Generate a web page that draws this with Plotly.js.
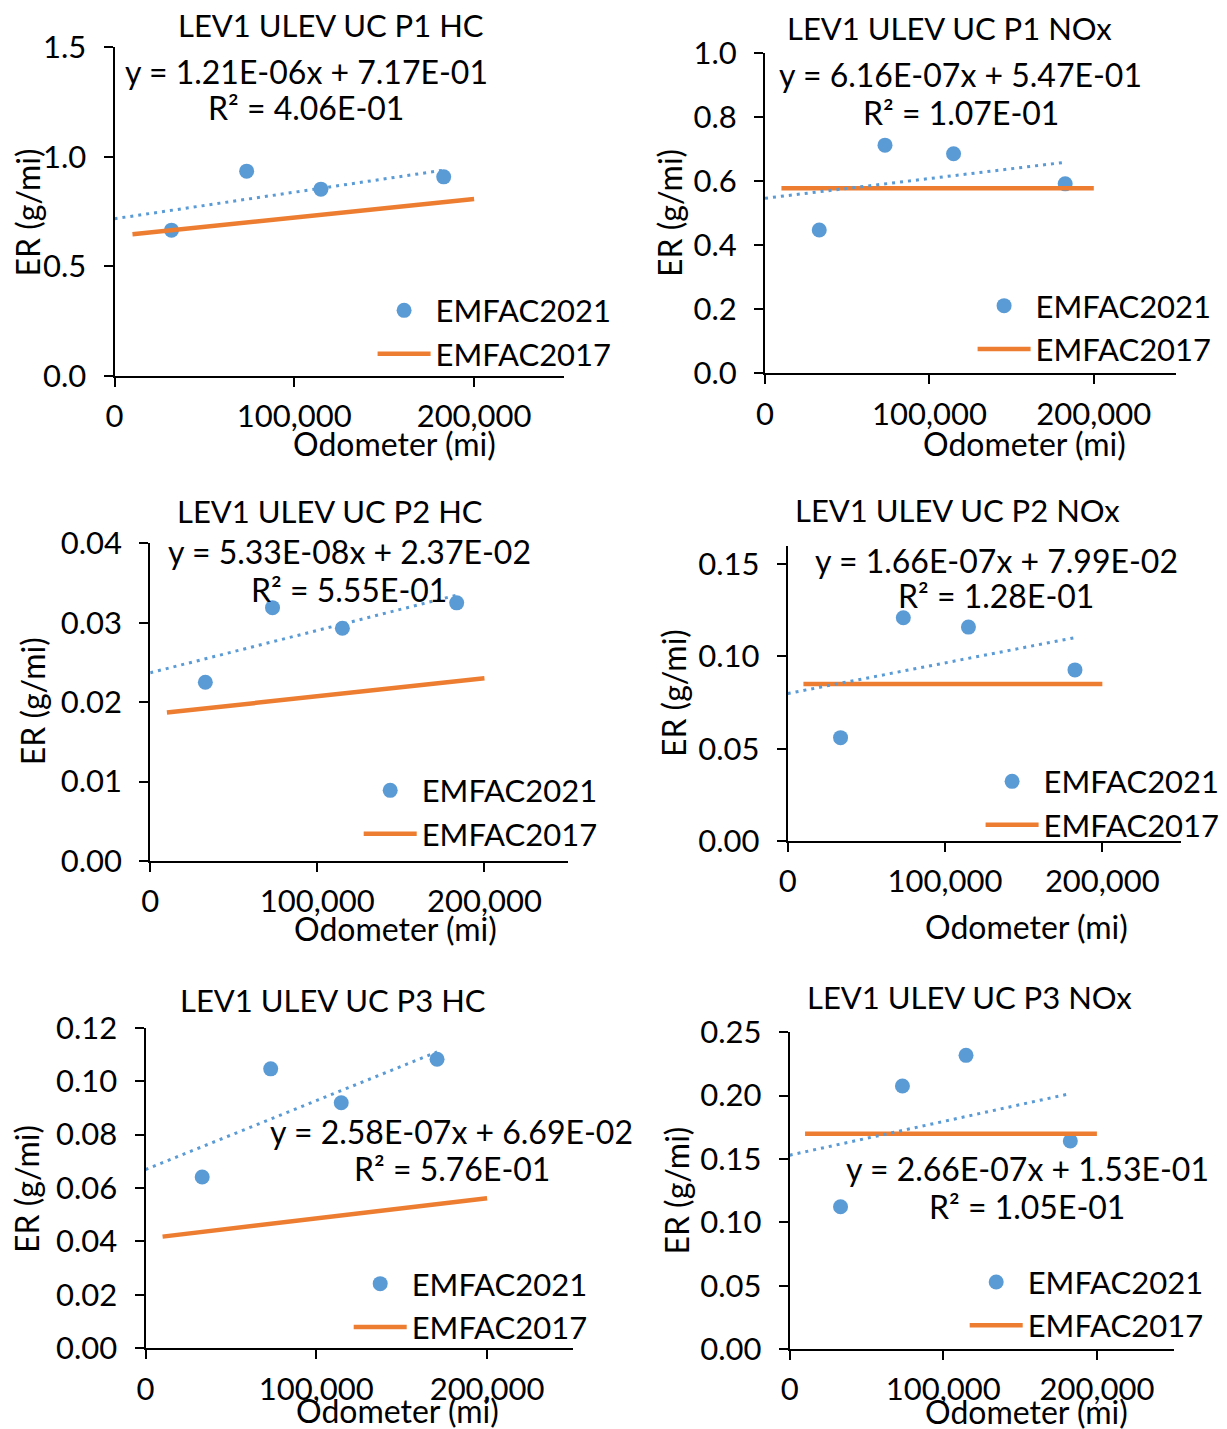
<!DOCTYPE html>
<html><head><meta charset="utf-8">
<script src="https://cdn.plot.ly/plotly-3.0.1.min.js"></script>
<style>html,body{margin:0;padding:0;background:#fff}</style>
</head><body>
<div id="chart" style="width:1227px;height:1429px"></div>
<script>
// ---------- data ----------
const titles = ['LEV1 ULEV UC P1 HC','LEV1 ULEV UC P1 NOx','LEV1 ULEV UC P2 HC','LEV1 ULEV UC P2 NOx','LEV1 ULEV UC P3 HC','LEV1 ULEV UC P3 NOx'];
const odometer = [
  [31700, 73500, 114800, 183100],
  [33000, 73000, 114700, 182600],
  [33000, 73200, 115000, 183400],
  [33600, 73500, 114900, 182600],
  [33200, 73300, 114600, 170700],
  [33100, 73400, 114800, 182700]
];
const emfac2021 = [
  [0.665, 0.934, 0.852, 0.908],
  [0.448, 0.713, 0.686, 0.592],
  [0.0225, 0.0319, 0.0293, 0.0325],
  [0.0560, 0.1210, 0.1159, 0.0927],
  [0.0641, 0.1046, 0.0919, 0.1082],
  [0.1123, 0.2076, 0.2318, 0.1642]
];
const emfac2017X = [10000, 200000];
const emfac2017Y = [
  [0.646, 0.807],
  [0.578, 0.578],
  [0.0187, 0.0230],
  [0.085, 0.085],
  [0.0418, 0.0562],
  [0.170, 0.170]
];
const trendSlope = [1.21e-6, 6.16e-7, 5.33e-8, 1.66e-7, 2.58e-7, 2.66e-7];
const trendIntercept = [7.17e-1, 5.47e-1, 2.37e-2, 7.99e-2, 6.69e-2, 1.53e-1];
const trendR2 = [4.06e-1, 1.07e-1, 5.55e-1, 1.28e-1, 5.76e-1, 1.05e-1];
const yMax = [1.5, 1.0, 0.04, 0.16, 0.12, 0.25];
const yStep = [0.5, 0.2, 0.01, 0.05, 0.02, 0.05];
const yFormat = ['.1f', '.1f', '.2f', '.2f', '.2f', '.2f'];
const xTitle = 'Odometer (mi)';
const yTitle = 'ER (g/mi)';
const seriesNames = ['EMFAC2021', 'EMFAC2017'];

// ---------- layout geometry (pixels) ----------
const W = 1227, H = 1429;
const geom = [
  {x0:114.5, x1:564,    yT:47,     yB:376,    title:[331,25],    eq:[306,71.7],   r2:[306,107],     xt:[394.5,443.3], yt:[27,212.5],   lg:[377.6,310.7]},
  {x0:765,   x1:1176,   yT:53.3,   yB:373.3,  title:[949,28.3],  eq:[960,75],     r2:[960.8,112.3], xt:[1024.3,443.3],yt:[669.6,213.3], lg:[977.6,306]},
  {x0:150.2, x1:568,    yT:543.3,  yB:861,    title:[329.7,511], eq:[349,551.7],  r2:[349.2,589],   xt:[395.9,928.3], yt:[32.6,701.7], lg:[363.7,790.7]},
  {x0:787.7, x1:1181,   yT:545.7,  yB:841,    title:[957.8,510], eq:[996.5,560],  r2:[995.5,595],   xt:[1026.7,926.7],yt:[672.8,693.3], lg:[985.6,781.7]},
  {x0:145.5, x1:572.5,  yT:1027.7, yB:1348.3, title:[333.3,1000],eq:[451.5,1131], r2:[451.5,1168.3],xt:[397.5,1410.5],yt:[25.8,1189.2],lg:[353.7,1284]},
  {x0:789.7, x1:1173.7, yT:1032.3, yB:1349,   title:[969.9,996.7],eq:[1027,1168.3],r2:[1027.3,1206.7],xt:[1026.3,1411],yt:[676.8,1190.8],lg:[969.7,1282.3]}
];
const FONT = 'Lato, "Open Sans", sans-serif';
const FS_ANN = 32, FS_TICK = 31, FS_LEG = 31, FS_TITLE = 31;
const BLUE = '#5B9BD5', ORANGE = '#ED7D31';

function fmtE(v){
  const s = v.toExponential(2);
  const parts = s.split('e');
  const e = parseInt(parts[1], 10);
  return parts[0] + 'E' + (e < 0 ? '-' : '+') + String(Math.abs(e)).padStart(2, '0');
}
const px = x => x / W;
const py = y => 1 - y / H;

const traces = [];
const layout = {
  width: W, height: H,
  margin: {l:0, r:0, t:0, b:0},
  paper_bgcolor: '#fff', plot_bgcolor: 'rgba(0,0,0,0)',
  font: {family: FONT, size: FS_ANN, color: '#000'},
  showlegend: true,
  annotations: []
};

for (let i = 0; i < 6; i++) {
  const s = i === 0 ? '' : String(i + 1);
  const g = geom[i];
  const lg = i === 0 ? 'legend' : 'legend' + s;
  const xs = odometer[i];
  const xMaxData = Math.max.apply(null, xs);

  traces.push({
    type: 'scatter', mode: 'markers', name: seriesNames[0],
    x: xs, y: emfac2021[i], xaxis: 'x' + s, yaxis: 'y' + s,
    marker: {color: BLUE, size: 15}, legend: lg, cliponaxis: false
  });
  traces.push({
    type: 'scatter', mode: 'lines', name: seriesNames[1],
    x: emfac2017X, y: emfac2017Y[i], xaxis: 'x' + s, yaxis: 'y' + s,
    line: {color: ORANGE, width: 4.5}, legend: lg
  });
  traces.push({
    type: 'scatter', mode: 'lines', name: 'Linear (EMFAC2021)',
    x: [0, xMaxData],
    y: [trendIntercept[i], trendSlope[i] * xMaxData + trendIntercept[i]],
    xaxis: 'x' + s, yaxis: 'y' + s,
    line: {color: BLUE, width: 3, dash: '3px,5px'}, showlegend: false, legend: lg
  });

  layout['xaxis' + s] = {
    domain: [px(g.x0), px(g.x1)], anchor: 'y' + s,
    range: [0, 250000], dtick: 100000, tick0: 0, tickformat: ',d',
    ticks: 'outside', ticklen: 9, tickwidth: 2, tickcolor: '#000',
    showline: true, linecolor: '#000', linewidth: 2,
    showgrid: false, zeroline: false, ticklabelstandoff: 3,
    tickfont: {family: FONT, size: FS_TICK, color: '#000'}
  };
  layout['yaxis' + s] = {
    domain: [py(g.yB), py(g.yT)], anchor: 'x' + s,
    range: [0, yMax[i]], dtick: yStep[i], tick0: 0, tickformat: yFormat[i],
    ticks: 'outside', ticklen: 9, tickwidth: 2, tickcolor: '#000',
    showline: true, linecolor: '#000', linewidth: 2,
    showgrid: false, zeroline: false, ticklabelstandoff: 11,
    tickfont: {family: FONT, size: FS_TICK, color: '#000'}
  };
  layout[lg] = {
    x: px(g.lg[0] - 5), y: py(g.lg[1] - 27), xanchor: 'left', yanchor: 'top',
    xref: 'paper', yref: 'paper', bgcolor: 'rgba(0,0,0,0)', borderwidth: 0,
    itemwidth: 53, traceorder: 'normal',
    font: {family: FONT, size: FS_LEG, color: '#000'}
  };
  const ann = (pos, text, extra) => Object.assign({
    xref: 'paper', yref: 'paper', x: px(pos[0]), y: py(pos[1]),
    xanchor: 'center', yanchor: 'middle', showarrow: false, text: text,
    font: {family: FONT, size: FS_ANN, color: '#000'}
  }, extra || {});
  layout.annotations.push(ann(g.title, titles[i], {font: {family: FONT, size: FS_TITLE, color: '#000'}}));
  layout.annotations.push(ann(g.eq, 'y = ' + fmtE(trendSlope[i]) + 'x + ' + fmtE(trendIntercept[i])));
  layout.annotations.push(ann(g.r2, 'R² = ' + fmtE(trendR2[i])));
  layout.annotations.push(ann(g.xt, xTitle));
  layout.annotations.push(ann(g.yt, yTitle, {textangle: -90}));
}

Plotly.newPlot('chart', traces, layout, {staticPlot: true});
</script>
</body></html>
